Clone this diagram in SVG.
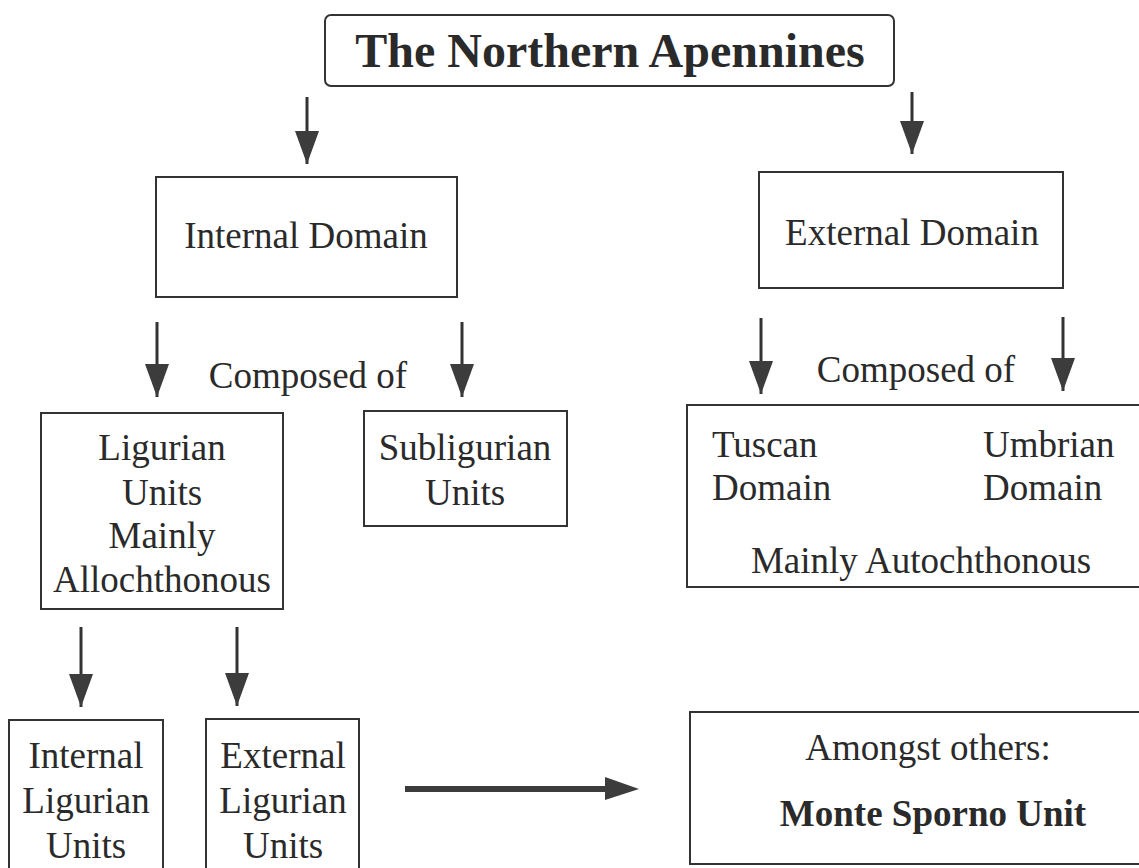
<svg xmlns="http://www.w3.org/2000/svg" width="1139" height="868" viewBox="0 0 1139 868">
<style>
.box{fill:none;stroke:#333;stroke-width:2}
.t{font-family:"Liberation Serif","Times New Roman",serif;font-size:37px;fill:#2a2a2a}
.m{text-anchor:middle}
.b{font-weight:bold}
.c{stroke:#333;stroke-width:3;fill:none}
.h{fill:#3c3c3c}
</style>
<defs>
<marker id="ah" markerUnits="userSpaceOnUse" markerWidth="26" markerHeight="34" refX="12" refY="33" orient="0" viewBox="0 0 24 34">
<path d="M0,0 L24,0 L12,33 Z" class="h"/>
</marker>
</defs>
<rect width="1139" height="868" fill="#ffffff"/>
<g id="connectors">
<line class="c" x1="307" y1="97" x2="307" y2="164" marker-end="url(#ah)"/>
<line class="c" x1="912" y1="92" x2="912" y2="154" marker-end="url(#ah)"/>
<line class="c" x1="157" y1="322" x2="157" y2="397" marker-end="url(#ah)"/>
<line class="c" x1="462" y1="322" x2="462" y2="397" marker-end="url(#ah)"/>
<line class="c" x1="761" y1="318" x2="761" y2="394" marker-end="url(#ah)"/>
<line class="c" x1="1063" y1="317" x2="1063" y2="391" marker-end="url(#ah)"/>
<line class="c" x1="81" y1="627" x2="81" y2="707" marker-end="url(#ah)"/>
<line class="c" x1="237" y1="627" x2="237" y2="706" marker-end="url(#ah)"/>
<line x1="405" y1="789" x2="610" y2="789" stroke="#3c3c3c" stroke-width="6"/>
<path d="M605,777 L639,789 L605,800 Z" class="h"/>
</g>
<g id="title">
<rect class="box" x="325" y="15" width="569" height="71" rx="6"/>
<text class="t b m" x="610" y="67" style="font-size:48px">The Northern Apennines</text>
</g>
<g id="internal-domain">
<rect class="box" x="156" y="177" width="301" height="120"/>
<text class="t m" x="306" y="248">Internal Domain</text>
</g>
<g id="external-domain">
<rect class="box" x="759" y="172" width="304" height="116"/>
<text class="t m" x="912" y="245">External Domain</text>
</g>
<g id="composed-left">
<text class="t m" x="308" y="388">Composed of</text>
</g>
<g id="composed-right">
<text class="t m" x="916" y="382">Composed of</text>
</g>
<g id="ligurian-units">
<rect class="box" x="41" y="413" width="242" height="196"/>
<text class="t m" x="162" y="460">Ligurian</text>
<text class="t m" x="162" y="505">Units</text>
<text class="t m" x="162" y="548">Mainly</text>
<text class="t m" x="162" y="592">Allochthonous</text>
</g>
<g id="subligurian-units">
<rect class="box" x="364" y="411" width="203" height="115"/>
<text class="t m" x="465" y="460">Subligurian</text>
<text class="t m" x="465" y="505">Units</text>
</g>
<g id="tuscan-umbrian">
<rect class="box" x="687" y="405" width="460" height="182"/>
<text class="t" x="712" y="457">Tuscan</text>
<text class="t" x="712" y="500">Domain</text>
<text class="t" x="983" y="457">Umbrian</text>
<text class="t" x="983" y="500">Domain</text>
<text class="t m" x="921" y="573">Mainly Autochthonous</text>
</g>
<g id="internal-ligurian">
<rect class="box" x="9" y="720" width="154" height="160"/>
<text class="t m" x="86" y="768">Internal</text>
<text class="t m" x="86" y="813">Ligurian</text>
<text class="t m" x="86" y="858">Units</text>
</g>
<g id="external-ligurian">
<rect class="box" x="206" y="719" width="153" height="160"/>
<text class="t m" x="283" y="768">External</text>
<text class="t m" x="283" y="813">Ligurian</text>
<text class="t m" x="283" y="858">Units</text>
</g>
<g id="monte-sporno">
<rect class="box" x="690" y="712" width="460" height="152"/>
<text class="t m" x="928" y="760">Amongst others:</text>
<text class="t b m" x="933" y="826">Monte Sporno Unit</text>
</g>
</svg>
